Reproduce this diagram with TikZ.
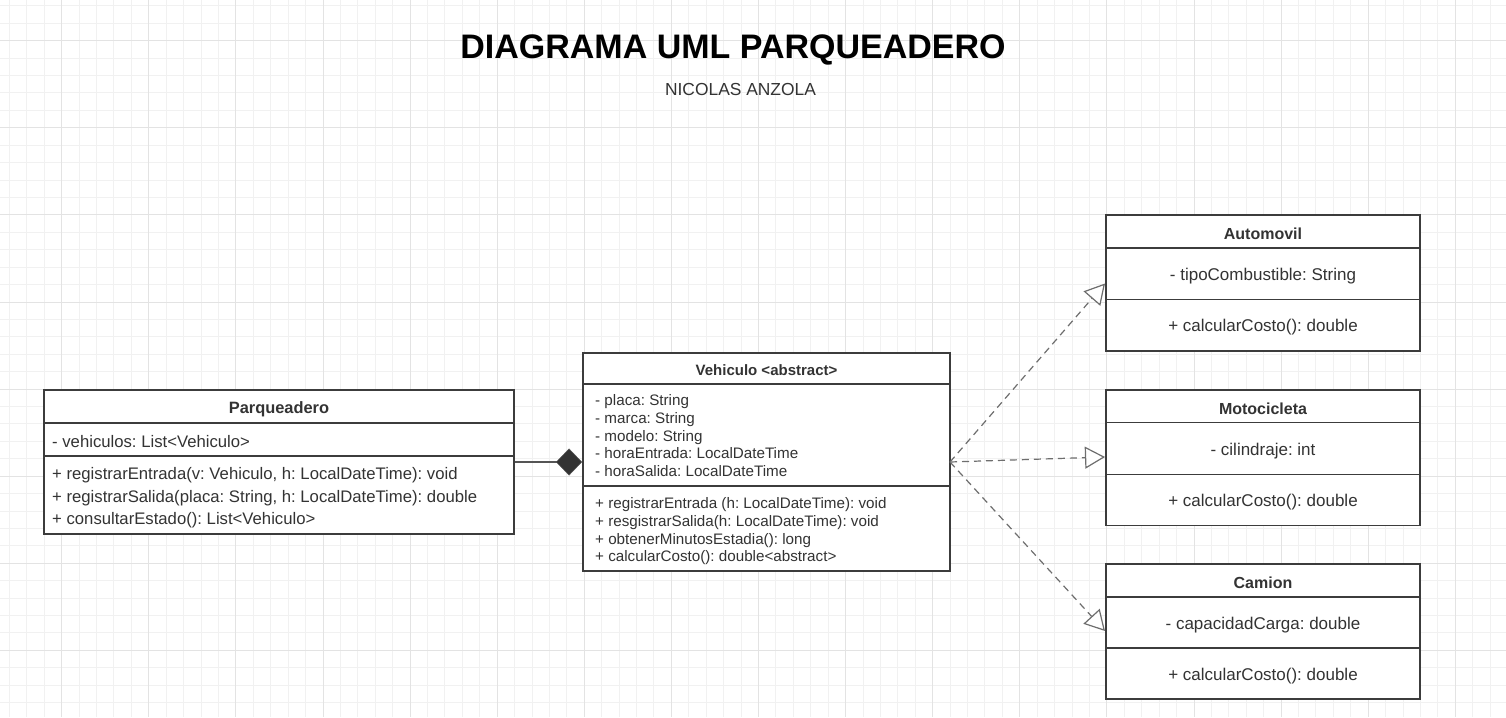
\documentclass[tikz,border=0pt]{standalone}
\usepackage{fontspec}
\setmainfont{Liberation Sans}
\usetikzlibrary{arrows.meta}
\definecolor{boxc}{HTML}{3C3C3C}
\definecolor{txt}{HTML}{333333}
\definecolor{gminor}{HTML}{F1F1F1}
\definecolor{gmajor}{HTML}{E3E3E3}
\definecolor{dashc}{HTML}{6E6E6E}
\definecolor{linec}{HTML}{555555}
\frenchspacing
\tikzset{
  compart/.style={draw=boxc, line width=1.9pt, inner sep=0pt},
  txtbase/.style={inner sep=0pt, text=txt, yshift=-2.3pt},
  hdrA/.style={txtbase, font=\fontsize{16.4}{20}\selectfont\bfseries},
  hdrB/.style={txtbase, font=\fontsize{15}{18}\selectfont\bfseries},
  hdrC/.style={txtbase, font=\fontsize{16}{20}\selectfont\bfseries},
  parqtext/.style={txtbase, anchor=west, align=left, font=\fontsize{16.7}{22.7}\selectfont},
  vehtext/.style={txtbase, anchor=west, align=left, font=\fontsize{15.2}{17.7}\selectfont},
  subtext/.style={txtbase, align=center, font=\fontsize{17}{20}\selectfont},
  realiz/.style={draw=dashc, line width=1.2pt, dash pattern=on 7pt off 5pt,
    -{Triangle[open, length=20pt, width=22pt, fill=white, line width=1.2pt]}},
  compos/.style={draw=linec, line width=1.5pt,
    -{Diamond[length=26pt, width=27pt, fill=txt, line width=0.5pt]}},
  gridminorline/.style={draw=gminor, line width=1pt},
  gridmajorline/.style={draw=gmajor, line width=1pt},
}
\begin{document}
\begin{tikzpicture}[x=1pt,y=-1pt]
\useasboundingbox (0,0) rectangle (1506,717);
\fill[white] (0,0) rectangle (1506,717);
% grid
\foreach \k in {0,...,85} {
  \pgfmathsetmacro\xx{9.44+17.42*\k}
  \draw[gridminorline] (\xx,0) -- (\xx,717);
}
\foreach \k in {0,...,40} {
  \pgfmathsetmacro\yy{5.86+17.42*\k}
  \draw[gridminorline] (0,\yy) -- (1506,\yy);
}
\foreach \k in {0,...,16} {
  \pgfmathsetmacro\xx{61.7+87.1*\k}
  \draw[gridmajorline] (\xx,0) -- (\xx,717);
}
\foreach \k in {0,...,7} {
  \pgfmathsetmacro\yy{40.7+87.1*\k}
  \draw[gridmajorline] (0,\yy) -- (1506,\yy);
}
% title
\node[font=\fontsize{34}{40}\selectfont\bfseries, text=black] (title) at (733,50) {DIAGRAMA UML PARQUEADERO};
\node[font=\fontsize{17.4}{20}\selectfont, text=txt] (subtitle) at (740.5,90) {NICOLAS ANZOLA};

% white backgrounds of the classes
\fill[white] (44,390) rectangle (514,534);
\fill[white] (583,353) rectangle (950,571);
\fill[white] (1106,215) rectangle (1420,351);
\fill[white] (1106,390) rectangle (1420,525.5);
\fill[white] (1106,564) rectangle (1420,699);

% Parqueadero
\node[compart, minimum width=470pt, minimum height=33pt] (parqH) at (279,406.5) {};
\node[compart, minimum width=470pt, minimum height=33pt] (parqA) at (279,439.5) {};
\node[compart, minimum width=470pt, minimum height=78pt] (parqM) at (279,495) {};
\node[hdrA] (parqHt) at (parqH.center) {Parqueadero};
\node[parqtext] (parqAt) at (52,439.5) {- vehiculos: List<Vehiculo>};
\node[parqtext] (parqMt) at (52,495.5) {+ registrarEntrada(v: Vehiculo, h: LocalDateTime): void\\+ registrarSalida(placa: String, h: LocalDateTime): double\\+ consultarEstado(): List<Vehiculo>};

% Vehiculo
\node[compart, minimum width=367pt, minimum height=31pt] (vehH) at (766.5,368.5) {};
\node[compart, minimum width=367pt, minimum height=102pt] (vehA) at (766.5,435) {};
\node[compart, minimum width=367pt, minimum height=85pt] (vehM) at (766.5,528.5) {};
\node[hdrB] (vehHt) at (766.5,367.5) {Vehiculo <abstract>};
\node[vehtext] (vehAt) at (595,433.3) {- placa: String\\- marca: String\\- modelo: String\\- horaEntrada: LocalDateTime\\- horaSalida: LocalDateTime};
\node[vehtext] (vehMt) at (595,529) {+ registrarEntrada (h: LocalDateTime): void\\+ resgistrarSalida(h: LocalDateTime): void\\+ obtenerMinutosEstadia(): long\\+ calcularCosto(): double<abstract>};

% Automovil
\node[compart, minimum width=314pt, minimum height=33pt] (autoH) at (1263,231.5) {};
\node[compart, minimum width=314pt, minimum height=51.5pt] (autoA) at (1263,273.75) {};
\node[compart, minimum width=314pt, minimum height=51.5pt] (autoM) at (1263,325.25) {};
\node[hdrC] (autoHt) at (autoH.center) {Automovil};
\node[subtext] (autoAt) at (autoA.center) {- tipoCombustible: String};
\node[subtext] (autoMt) at (autoM.center) {+ calcularCosto(): double};

% Motocicleta
\node[compart, minimum width=314pt, minimum height=32.5pt] (motoH) at (1263,406.25) {};
\node[compart, minimum width=314pt, minimum height=52pt] (motoA) at (1263,448.5) {};
\node[compart, minimum width=314pt, minimum height=51pt] (motoM) at (1263,500) {};
\node[hdrC] (motoHt) at (motoH.center) {Motocicleta};
\node[subtext] (motoAt) at (motoA.center) {- cilindraje: int};
\node[subtext] (motoMt) at (motoM.center) {+ calcularCosto(): double};

% Camion
\node[compart, minimum width=314pt, minimum height=33pt] (camH) at (1263,580.5) {};
\node[compart, minimum width=314pt, minimum height=51pt] (camA) at (1263,622.5) {};
\node[compart, minimum width=314pt, minimum height=51pt] (camM) at (1263,673.5) {};
\node[hdrC] (camHt) at (camH.center) {Camion};
\node[subtext] (camAt) at (camA.center) {- capacidadCarga: double};
\node[subtext] (camMt) at (camM.center) {+ calcularCosto(): double};

% connectors
\coordinate (compS) at (parqM.north east |- 0,462);
\coordinate (compE) at (vehA.south west |- 0,462);
\draw[compos] (compS) -- (compE);

\coordinate (vs) at (950,462);
\coordinate (tAuto) at (1105,283.5);
\coordinate (tMoto) at (1105,457);
\coordinate (tCam) at (1105,631);
\draw[realiz] (vs) -- (tAuto);
\draw[realiz] (vs) -- (tMoto);
\draw[realiz] (vs) -- (tCam);
\end{tikzpicture}
\end{document}
